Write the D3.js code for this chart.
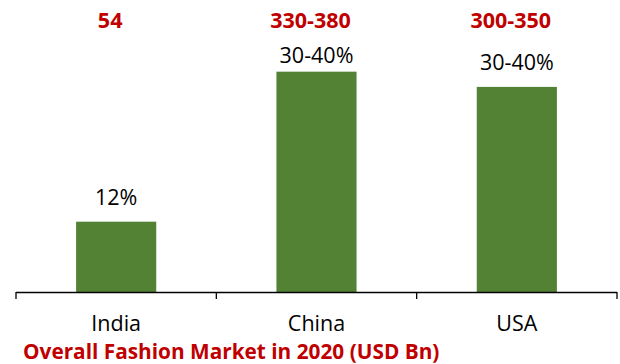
<!DOCTYPE html>
<html>
<head>
<meta charset="utf-8">
<script src="https://cdn.jsdelivr.net/npm/d3@7"></script>
<style>
  html, body { margin: 0; padding: 0; background: #fff; }
  svg { display: block; font-family: "Open Sans", Lato, sans-serif; }
</style>
</head>
<body>
<svg id="chart" width="620" height="364"></svg>
<script>
// Fashion market comparison by country
const countries = ["India", "China", "USA"];
const shareValues = [12, 37.6, 35];              // bar heights (%)
const shareLabels = ["12%", "30-40%", "30-40%"];  // labels above bars
const marketLabels = ["54", "330-380", "300-350"]; // market size, USD Bn
const title = "Overall Fashion Market in 2020 (USD Bn)";

const svg = d3.select("#chart");
const green = "#548235", red = "#C00000";
const baseY = 292;

const x = d3.scaleBand().domain(countries).range([16, 617])
  .paddingInner(0.6).paddingOuter(0.3);
const y = d3.scaleLinear().domain([0, 40]).range([baseY, baseY - 40 * 5.86]);
const cx = d => x(d) + x.bandwidth() / 2;

// bars
svg.selectAll("rect.bar").data(countries).join("rect")
  .attr("class", "bar")
  .attr("x", d => x(d))
  .attr("width", x.bandwidth())
  .attr("y", (d, i) => y(shareValues[i]))
  .attr("height", (d, i) => y(0) - y(shareValues[i]))
  .attr("fill", green);

// category axis with ticks on the category boundaries
const axisG = svg.append("g");
axisG.append("line")
  .attr("x1", 16).attr("x2", 617).attr("y1", baseY + 0.5).attr("y2", baseY + 0.5)
  .attr("stroke", "#000").attr("stroke-width", 1.3);
const bounds = d3.range(countries.length + 1).map(k => 16 + k * x.step());
axisG.selectAll("line.tick").data(bounds).join("line")
  .attr("class", "tick")
  .attr("x1", d => d).attr("x2", d => d)
  .attr("y1", baseY).attr("y2", baseY + 7)
  .attr("stroke", "#000").attr("stroke-width", 1.3);

axisG.selectAll("text.cat").data(countries).join("text")
  .attr("class", "cat")
  .attr("x", cx)
  .attr("y", 331)
  .attr("text-anchor", "middle")
  .attr("font-size", 21.5)
  .attr("fill", "#000")
  .text(d => d);

// percentage labels above bars, kept below the market-size row
svg.selectAll("text.share").data(countries).join("text")
  .attr("class", "share")
  .attr("x", cx)
  .attr("y", (d, i) => Math.max(y(shareValues[i]) - 17, 63))
  .attr("text-anchor", "middle")
  .attr("font-size", 21.5)
  .attr("fill", "#000")
  .text((d, i) => shareLabels[i]);

// market size labels at top
svg.selectAll("text.market").data(countries).join("text")
  .attr("class", "market")
  .attr("x", d => cx(d) - 6)
  .attr("y", 28)
  .attr("text-anchor", "middle")
  .attr("font-size", 21.5)
  .attr("font-weight", "bold")
  .attr("fill", red)
  .text((d, i) => marketLabels[i]);

// footer title
svg.append("text")
  .attr("x", 23).attr("y", 359)
  .attr("font-size", 20.8)
  .attr("font-weight", "bold")
  .attr("fill", red)
  .text(title);
</script>
</body>
</html>
